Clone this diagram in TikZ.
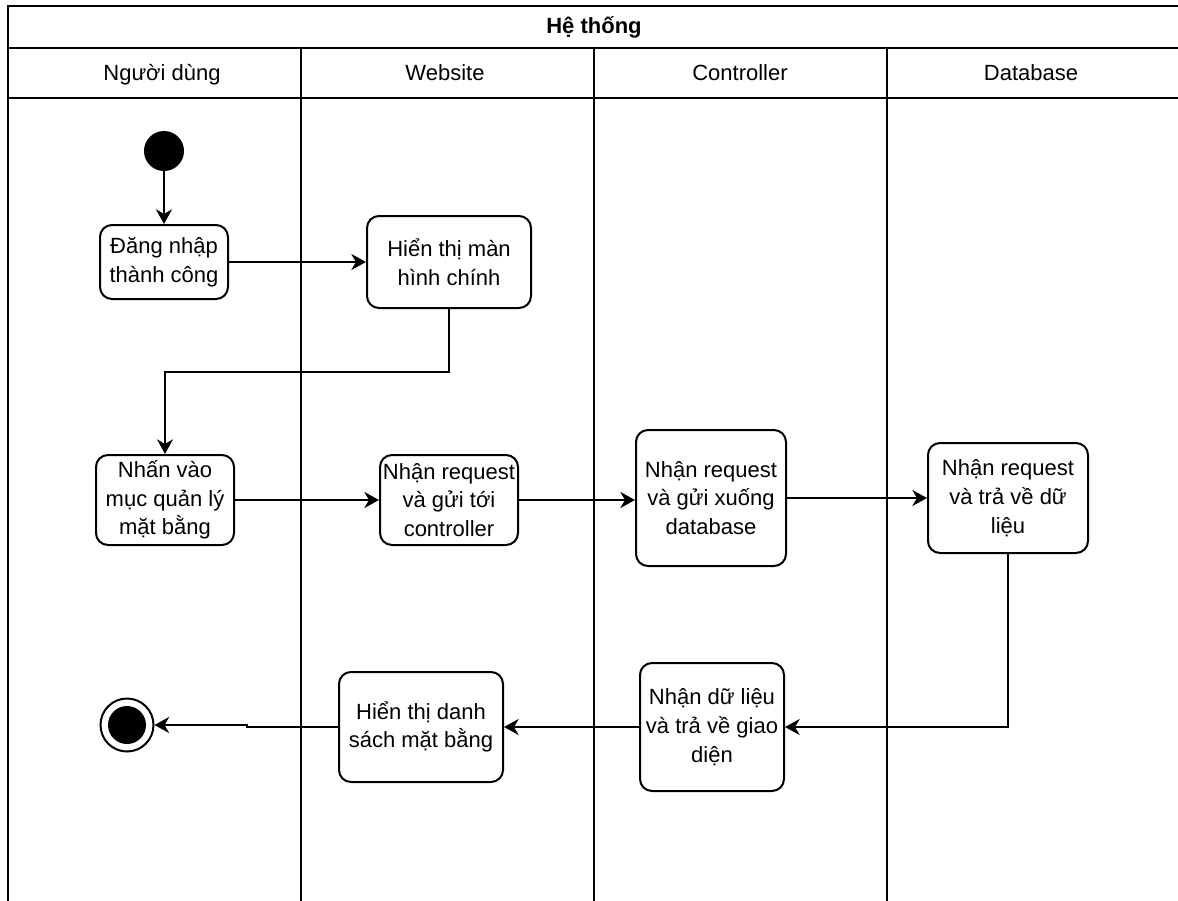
\documentclass[tikz,border=0pt]{standalone}
\usepackage{fontspec}
\setmainfont{Liberation Sans}
\usetikzlibrary{arrows.meta}
\begin{document}
\begin{tikzpicture}[x=0.75pt,y=-0.75pt,
  line width=1.5pt,
  every node/.style={font=\fontsize{16.5pt}{21.5pt}\selectfont},
  hdr/.style={anchor=base},
  act/.style={draw,rounded corners=9pt,align=center,inner sep=0pt,fill=white},
  flow/.style={-{Stealth[length=11pt,width=12pt,inset=3.5pt]}},
  startdot/.style={circle,fill=black,draw,minimum size=28.5pt,inner sep=0pt},
]
\useasboundingbox (0,0) rectangle (1178,900);
\clip (0,0) rectangle (1178,900);

% swimlane frame
\draw (8,910) -- (8,6) -- (1190,6);
\draw (8,48) -- (1190,48);
\draw (8,98) -- (1190,98);
\draw (301,48) -- (301,910);
\draw (594,48) -- (594,910);
\draw (887,48) -- (887,910);

% headers
\node[hdr,font=\fontsize{16.5pt}{20pt}\selectfont\bfseries] (title) at (594,33) {Hệ thống};
\node[hdr] (h1) at (162,80) {Người dùng};
\node[hdr] (h2) at (445,80) {Website};
\node[hdr] (h3) at (740,80) {Controller};
\node[hdr] (h4) at (1031,80) {Database};

% activities
\node[startdot] (start) at (164,151) {};
\node[act,minimum width=128*0.75pt,minimum height=74*0.75pt] (login) at (164,262) {Đăng nhập\\thành công};
\node[act,minimum width=164*0.75pt,minimum height=92*0.75pt] (mainscr) at (449,262) {Hiển thị màn\\hình chính};
\node[act,minimum width=138*0.75pt,minimum height=90*0.75pt] (click) at (165,500) {Nhấn vào\\mục quản lý\\mặt bằng};
\node[act,minimum width=138*0.75pt,minimum height=90*0.75pt] (webreq) at (449,500) {Nhận request\\và gửi tới\\controller};
\node[act,minimum width=150*0.75pt,minimum height=136*0.75pt] (ctrlreq) at (711,498) {Nhận request\\và gửi xuống\\database};
\node[act,minimum width=160*0.75pt,minimum height=110*0.75pt] (dbreq) at (1008,498) {Nhận request\\và trả về dữ\\liệu};
\node[act,minimum width=144*0.75pt,minimum height=128*0.75pt] (ctrlres) at (712,727) {Nhận dữ liệu\\và trả về giao\\diện};
\node[act,minimum width=164*0.75pt,minimum height=110*0.75pt] (list) at (421,727) {Hiển thị danh\\sách mặt bằng};
\node[circle,draw,fill=white,minimum size=53*0.75pt,inner sep=0pt] (stop) at (127,725) {};
\node[circle,fill=black,minimum size=38*0.75pt,inner sep=0pt] (stopin) at (stop.center) {};

% helper points for bends
\coordinate (bend1) at (0,372);
\coordinate (jog) at (247,725);

% connectors
\draw[flow] (start) -- (login);
\draw[flow] (login.east) -- (mainscr.west |- login.east);
\draw[flow] (mainscr.south) -- (mainscr.south |- bend1) -| (click.north);
\draw[flow] (click.east) -- (webreq.west);
\draw[flow] (webreq.east) -- (ctrlreq.west |- webreq.east);
\draw[flow] (ctrlreq.east) -- (dbreq.west |- ctrlreq.east);
\draw[flow] (dbreq.south) |- (ctrlres.east);
\draw[flow] (ctrlres.west) -- (list.east |- ctrlres.west);
\draw[flow] (list.west) -- (list.west -| jog) -- (jog) -- (stop.east);
\end{tikzpicture}
\end{document}
